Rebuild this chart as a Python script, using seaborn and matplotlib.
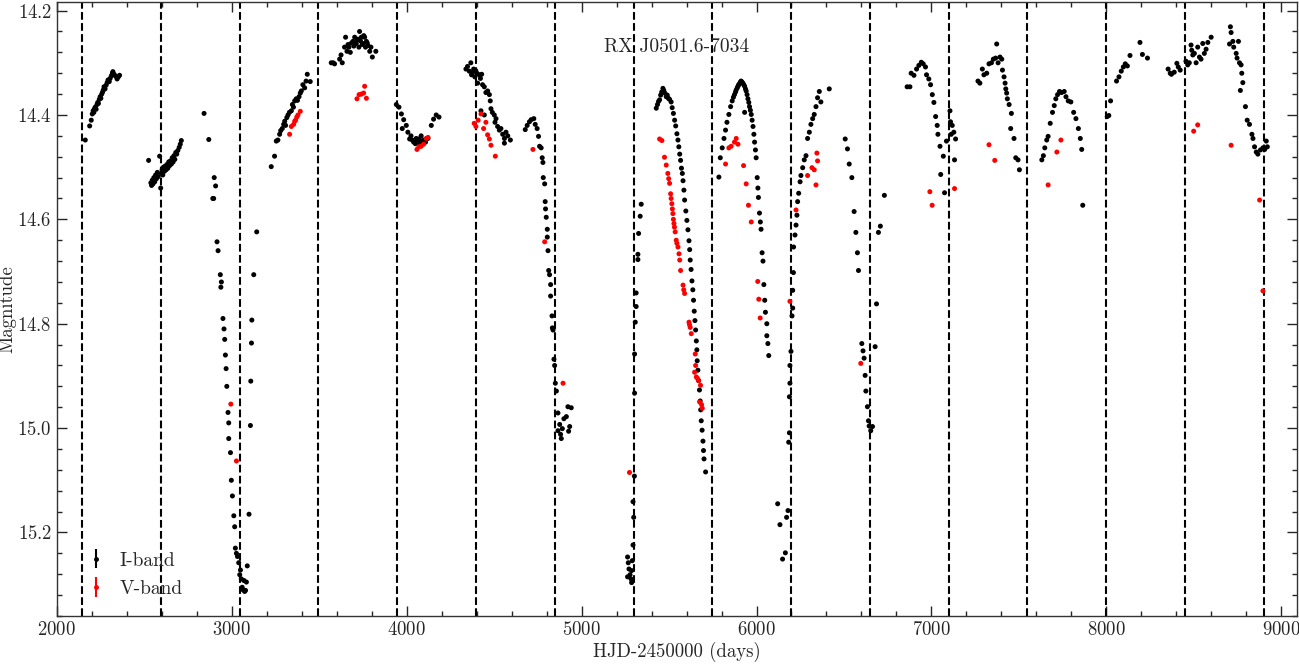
import numpy as np
import pandas as pd
import matplotlib
matplotlib.use("Agg")
import matplotlib.pyplot as plt
from matplotlib.ticker import MultipleLocator
import seaborn as sns

I_S01 = [(2163, 14.448), (2188, 14.421), (2197, 14.410), (2203, 14.398), (2208, 14.392), (2212, 14.395),
         (2216, 14.388), (2220, 14.385), (2225, 14.389), (2230, 14.380), (2234, 14.376), (2238, 14.378),
         (2243, 14.370), (2248, 14.365), (2252, 14.368), (2257, 14.360), (2262, 14.356), (2266, 14.352),
         (2270, 14.346), (2276, 14.350), (2282, 14.343), (2288, 14.338), (2293, 14.333), (2300, 14.336),
         (2305, 14.330), (2312, 14.325), (2318, 14.320), (2321, 14.317), (2328, 14.322), (2337, 14.326),
         (2345, 14.331), (2352, 14.327), (2359, 14.324)]
I_S02 = [(2525, 14.487), (2538, 14.530), (2542, 14.535), (2546, 14.525), (2550, 14.532), (2555, 14.520),
         (2560, 14.528), (2565, 14.515), (2570, 14.522), (2575, 14.510), (2580, 14.518), (2588, 14.479),
         (2594, 14.540), (2598, 14.512), (2602, 14.505), (2606, 14.515), (2610, 14.500), (2615, 14.508),
         (2620, 14.498), (2625, 14.505), (2630, 14.495), (2635, 14.502), (2640, 14.490), (2645, 14.497),
         (2650, 14.488), (2655, 14.494), (2660, 14.482), (2665, 14.490), (2670, 14.478), (2675, 14.485),
         (2680, 14.472), (2686, 14.475), (2692, 14.468), (2700, 14.462), (2706, 14.456), (2712, 14.449)]
I_S03 = [(2842, 14.397), (2869, 14.447), (2900, 14.520), (2908, 14.536), (2892, 14.560), (2897, 14.560),
         (2916, 14.643), (2922, 14.660), (2935, 14.706), (2941, 14.720), (2938, 14.730), (2950, 14.790),
         (2956, 14.810), (2960, 14.830), (2964, 14.860), (2968, 14.886), (2972, 14.920), (2979, 14.970),
         (2983, 14.990), (2983, 15.020), (2993, 15.047), (2998, 15.100), (3004, 15.130), (3012, 15.168),
         (3017, 15.189), (3021, 15.230), (3027, 15.240), (3033, 15.246), (3040, 15.258), (3046, 15.281),
         (3050, 15.272), (3055, 15.289), (3060, 15.305), (3065, 15.310), (3070, 15.292), (3074, 15.313),
         (3079, 15.311), (3084, 15.295), (3089, 15.264)]
I_S04 = [(3099, 15.165), (3107, 14.995), (3109, 14.910), (3113, 14.837), (3115, 14.793), (3126, 14.706),
         (3143, 14.624)]
I_S05 = [(3226, 14.499), (3245, 14.479), (3255, 14.450), (3264, 14.448), (3274, 14.437), (3280, 14.430),
         (3289, 14.426), (3297, 14.418), (3303, 14.412), (3308, 14.420), (3315, 14.405), (3322, 14.400),
         (3330, 14.395), (3341, 14.392), (3347, 14.380), (3353, 14.385), (3360, 14.373), (3369, 14.369),
         (3376, 14.372), (3385, 14.365), (3392, 14.358), (3398, 14.354), (3407, 14.342), (3417, 14.348),
         (3425, 14.335), (3432, 14.322), (3449, 14.336)]
I_S06 = [(3569, 14.300), (3580, 14.300), (3588, 14.302), (3617, 14.293), (3625, 14.285), (3632, 14.300),
         (3645, 14.270), (3651, 14.251), (3659, 14.278), (3665, 14.265), (3670, 14.270), (3678, 14.280),
         (3685, 14.262), (3693, 14.259), (3698, 14.268), (3703, 14.251), (3708, 14.262), (3712, 14.263),
         (3718, 14.255), (3722, 14.255), (3727, 14.270), (3731, 14.240), (3736, 14.258), (3741, 14.251),
         (3746, 14.265), (3750, 14.263), (3755, 14.248), (3760, 14.251), (3765, 14.270), (3770, 14.259),
         (3775, 14.262), (3779, 14.267), (3789, 14.278), (3796, 14.270), (3804, 14.289), (3824, 14.278)]
I_S07 = [(3941, 14.380), (3956, 14.385), (3970, 14.398), (3975, 14.426), (3983, 14.409), (3998, 14.420),
         (4007, 14.433), (4017, 14.446), (4025, 14.440), (4032, 14.448), (4040, 14.452), (4045, 14.450),
         (4050, 14.455), (4055, 14.445), (4062, 14.452), (4070, 14.446), (4076, 14.455), (4083, 14.440),
         (4090, 14.450), (4097, 14.448), (4108, 14.452), (4115, 14.445), (4122, 14.445), (4141, 14.420),
         (4154, 14.408), (4169, 14.400), (4185, 14.404)]
I_S08 = [(4339, 14.312), (4348, 14.307), (4358, 14.316), (4367, 14.300), (4371, 14.323), (4378, 14.318),
         (4383, 14.312), (4390, 14.327), (4395, 14.315), (4402, 14.320), (4406, 14.339), (4415, 14.323),
         (4422, 14.330), (4429, 14.322), (4434, 14.342), (4444, 14.346), (4453, 14.357), (4463, 14.354),
         (4473, 14.361), (4478, 14.373), (4425, 14.392), (4444, 14.400), (4482, 14.388), (4490, 14.395),
         (4501, 14.400), (4505, 14.414), (4511, 14.407), (4520, 14.422), (4530, 14.429), (4539, 14.426),
         (4549, 14.437), (4559, 14.445), (4559, 14.454), (4568, 14.433), (4578, 14.440), (4593, 14.448)]
I_S09 = [(4678, 14.428), (4689, 14.420), (4702, 14.413), (4712, 14.409), (4727, 14.407), (4735, 14.418),
         (4746, 14.426), (4754, 14.441), (4760, 14.460), (4769, 14.463), (4775, 14.482), (4779, 14.491),
         (4781, 14.520), (4789, 14.532), (4792, 14.566), (4794, 14.580), (4798, 14.596), (4804, 14.619),
         (4804, 14.634), (4808, 14.660), (4812, 14.698), (4817, 14.706), (4823, 14.725), (4823, 14.747),
         (4831, 14.785), (4833, 14.808), (4837, 14.812), (4842, 14.868), (4846, 14.880), (4850, 14.914),
         (4856, 14.929), (4865, 14.971), (4865, 15.005), (4875, 14.993), (4880, 15.012), (4884, 15.020),
         (4890, 15.001), (4899, 14.982), (4913, 14.978), (4922, 14.959), (4926, 15.006), (4932, 14.997),
         (4941, 14.961)]
I_S10 = [(5263, 15.247), (5263, 15.285), (5267, 15.258), (5271, 15.270), (5277, 15.281), (5283, 15.289),
         (5286, 15.296), (5286, 15.273), (5290, 15.254), (5294, 15.224), (5298, 15.171), (5294, 15.141),
         (5302, 15.092), (5303, 14.933), (5303, 14.858), (5307, 14.797), (5312, 14.767), (5312, 14.741),
         (5322, 14.677), (5322, 14.667), (5326, 14.627), (5335, 14.594), (5341, 14.571)]
I_S11 = [(5427, 14.387), (5434, 14.380), (5440, 14.374), (5446, 14.371), (5452, 14.362), (5458, 14.356),
         (5465, 14.349), (5470, 14.353), (5476, 14.358), (5484, 14.365), (5490, 14.362), (5496, 14.368),
         (5503, 14.370), (5512, 14.375), (5518, 14.386), (5525, 14.397), (5532, 14.410), (5538, 14.421),
         (5545, 14.436), (5551, 14.448), (5556, 14.461), (5561, 14.475), (5566, 14.487), (5571, 14.502),
         (5576, 14.512), (5580, 14.526), (5585, 14.544), (5589, 14.563), (5596, 14.584), (5602, 14.602),
         (5608, 14.620), (5614, 14.641), (5618, 14.658), (5621, 14.678), (5626, 14.696), (5631, 14.718),
         (5636, 14.735), (5640, 14.755), (5644, 14.776), (5648, 14.794), (5652, 14.812), (5656, 14.833),
         (5659, 14.850), (5661, 14.871), (5665, 14.889), (5669, 14.909), (5674, 14.927), (5678, 14.948),
         (5681, 14.965), (5684, 14.986), (5689, 15.004), (5694, 15.025), (5697, 15.043), (5700, 15.059),
         (5709, 15.084)]
I_S12 = [(5785, 14.519), (5793, 14.482), (5804, 14.463), (5814, 14.445), (5823, 14.429), (5831, 14.414),
         (5842, 14.399), (5852, 14.384), (5861, 14.373), (5868, 14.366), (5874, 14.361), (5880, 14.356),
         (5884, 14.352), (5890, 14.348), (5894, 14.345), (5898, 14.342), (5903, 14.340), (5908, 14.337),
         (5912, 14.335), (5917, 14.337), (5922, 14.339), (5927, 14.342), (5932, 14.345), (5937, 14.350),
         (5941, 14.354), (5946, 14.361), (5951, 14.369), (5956, 14.376), (5960, 14.384), (5965, 14.391),
         (5970, 14.399), (5975, 14.410), (5980, 14.422), (5985, 14.437), (5989, 14.452), (5994, 14.467),
         (5998, 14.482), (6004, 14.520), (6008, 14.540), (6011, 14.558), (6017, 14.588), (6022, 14.605),
         (6026, 14.619), (6032, 14.664), (6037, 14.680), (6042, 14.725), (6047, 14.755), (6051, 14.778),
         (6059, 14.800), (6059, 14.823), (6065, 14.838), (6070, 14.861), (5932, 14.395)]
I_S13 = [(6121, 15.145), (6134, 15.185), (6149, 15.251), (6165, 15.239), (6172, 15.171), (6180, 15.158),
         (6184, 15.027), (6188, 15.009), (6188, 14.940), (6191, 14.914), (6191, 14.880), (6197, 14.853),
         (6203, 14.785), (6207, 14.770), (6207, 14.736), (6211, 14.702), (6212, 14.653), (6220, 14.630),
         (6226, 14.611), (6231, 14.592), (6235, 14.566), (6241, 14.550), (6249, 14.528), (6254, 14.516),
         (6264, 14.501), (6273, 14.486), (6283, 14.478), (6292, 14.445), (6302, 14.433), (6311, 14.418),
         (6321, 14.407), (6330, 14.399), (6340, 14.384), (6349, 14.367), (6359, 14.355), (6368, 14.375),
         (6416, 14.350)]
I_S14 = [(6507, 14.446), (6520, 14.465), (6530, 14.494), (6545, 14.520), (6558, 14.585), (6568, 14.625),
         (6577, 14.664), (6583, 14.698), (6602, 14.838), (6609, 14.852), (6615, 14.866), (6621, 14.899),
         (6625, 14.929), (6634, 14.959), (6640, 14.986), (6644, 14.996), (6653, 15.005), (6663, 14.997),
         (6678, 14.844), (6686, 14.762), (6697, 14.625), (6708, 14.613), (6731, 14.554)]
I_S15 = [(6861, 14.346), (6877, 14.346), (6884, 14.320), (6900, 14.324), (6915, 14.312), (6928, 14.305),
         (6942, 14.299), (6953, 14.302), (6966, 14.308), (6972, 14.323), (6985, 14.331), (6995, 14.342),
         (7005, 14.361), (7014, 14.376), (7024, 14.403), (7033, 14.420), (7037, 14.437), (7049, 14.460),
         (7068, 14.479), (7053, 14.514), (7075, 14.549), (7086, 14.450), (7106, 14.392), (7109, 14.413),
         (7119, 14.420), (7128, 14.433), (7113, 14.437), (7138, 14.446), (7132, 14.486)]
I_S16 = [(7266, 14.335), (7277, 14.339), (7291, 14.312), (7300, 14.323), (7316, 14.320), (7329, 14.302),
         (7343, 14.300), (7354, 14.293), (7367, 14.291), (7373, 14.264), (7381, 14.300), (7392, 14.289),
         (7402, 14.293), (7406, 14.314), (7415, 14.327), (7421, 14.339), (7425, 14.350), (7430, 14.358),
         (7434, 14.369), (7444, 14.380), (7457, 14.397), (7453, 14.426), (7472, 14.445), (7482, 14.482),
         (7495, 14.486), (7503, 14.505)]
I_S17 = [(7631, 14.486), (7640, 14.478), (7648, 14.463), (7659, 14.448), (7667, 14.441), (7679, 14.416),
         (7692, 14.395), (7702, 14.382), (7711, 14.369), (7721, 14.361), (7732, 14.355), (7744, 14.357),
         (7759, 14.355), (7769, 14.365), (7782, 14.373), (7797, 14.375), (7813, 14.395), (7826, 14.407),
         (7840, 14.426), (7851, 14.445), (7859, 14.466), (7865, 14.573)]
I_S18 = [(8005, 14.403), (8014, 14.401), (8024, 14.373), (8058, 14.335), (8072, 14.327), (8085, 14.316),
         (8097, 14.308), (8108, 14.302), (8120, 14.306), (8135, 14.286), (8192, 14.261), (8206, 14.284),
         (8235, 14.291)]
I_S19 = [(8353, 14.312), (8365, 14.320), (8372, 14.322), (8388, 14.318), (8403, 14.301), (8411, 14.308),
         (8422, 14.314), (8455, 14.297), (8465, 14.304), (8474, 14.300), (8484, 14.266), (8488, 14.276),
         (8494, 14.285), (8503, 14.282), (8513, 14.300), (8522, 14.270), (8532, 14.289), (8541, 14.293),
         (8551, 14.263), (8560, 14.282), (8570, 14.274), (8580, 14.261), (8599, 14.251)]
I_S20 = [(8704, 14.264), (8709, 14.231), (8713, 14.242), (8723, 14.259), (8728, 14.270), (8742, 14.282),
         (8747, 14.291), (8755, 14.259), (8761, 14.300), (8766, 14.353), (8770, 14.304), (8774, 14.320),
         (8780, 14.338), (8795, 14.384), (8805, 14.410), (8818, 14.418), (8832, 14.437), (8838, 14.445),
         (8847, 14.461), (8857, 14.471), (8866, 14.475), (8881, 14.467), (8895, 14.463), (8905, 14.466),
         (8914, 14.450), (8920, 14.461)]

V_BAND = [(2995, 14.954), (3027, 15.063),
          (3331, 14.437), (3341, 14.422), (3354, 14.418), (3360, 14.412), (3365, 14.410), (3372, 14.404),
          (3379, 14.400), (3392, 14.393),
          (3716, 14.369), (3728, 14.361), (3741, 14.360), (3754, 14.358), (3760, 14.345), (3770, 14.368),
          (4059, 14.466), (4070, 14.461), (4083, 14.460), (4097, 14.456), (4112, 14.445), (4122, 14.443),
          (4386, 14.416), (4396, 14.422), (4409, 14.410), (4425, 14.398), (4440, 14.426), (4453, 14.414),
          (4463, 14.438), (4473, 14.446), (4482, 14.458), (4507, 14.479),
          (4722, 14.466), (4789, 14.643), (4894, 14.914),
          (5274, 15.085),
          (5446, 14.446), (5459, 14.449), (5474, 14.481), (5484, 14.496), (5493, 14.512), (5498, 14.522),
          (5503, 14.531), (5509, 14.551), (5512, 14.560), (5516, 14.570), (5519, 14.580), (5522, 14.589),
          (5525, 14.600), (5528, 14.608), (5531, 14.615), (5535, 14.624), (5541, 14.640), (5545, 14.646),
          (5551, 14.653), (5557, 14.666), (5561, 14.678), (5566, 14.698), (5580, 14.726), (5584, 14.735),
          (5589, 14.742), (5614, 14.797), (5617, 14.802), (5621, 14.807), (5627, 14.819), (5646, 14.893),
          (5650, 14.858), (5652, 14.880), (5656, 14.902), (5663, 14.905), (5669, 14.909), (5675, 14.950),
          (5680, 14.918), (5686, 14.955), (5690, 14.962),
          (5823, 14.494), (5842, 14.463), (5855, 14.460), (5874, 14.452), (5884, 14.445), (5894, 14.456),
          (5926, 14.497), (5941, 14.532), (5954, 14.573), (5970, 14.605), (6007, 14.719), (6013, 14.753),
          (6021, 14.789),
          (6191, 14.757), (6226, 14.582), (6292, 14.516), (6317, 14.501), (6330, 14.505), (6340, 14.534),
          (6345, 14.473), (6349, 14.488),
          (6596, 14.876),
          (6991, 14.547), (7004, 14.573), (7132, 14.541),
          (7329, 14.457), (7362, 14.487),
          (7667, 14.534), (7717, 14.471), (7740, 14.448),
          (8499, 14.431), (8522, 14.419), (8713, 14.458), (8876, 14.563), (8895, 14.737)]

# times of the vertical dashed markers
MARKER_DAYS = [2144, 2594, 3045, 3495, 3946, 4396, 4846, 5297,
               5747, 6198, 6648, 7098, 7549, 7999, 8450, 8900]

I_SEASONS = [I_S01, I_S02, I_S03, I_S04, I_S05, I_S06, I_S07, I_S08, I_S09, I_S10,
             I_S11, I_S12, I_S13, I_S14, I_S15, I_S16, I_S17, I_S18, I_S19, I_S20]


def main():
    rows = [(d, m, 'I-band') for season in I_SEASONS for d, m in season]
    rows += [(d, m, 'V-band') for d, m in V_BAND]
    df = pd.DataFrame(rows, columns=['day', 'mag', 'band'])

    sns.set_style("ticks")
    plt.rcParams['font.family'] = ['cmr10', 'DejaVu Serif']
    plt.rcParams['mathtext.fontset'] = 'cm'
    plt.rcParams['axes.formatter.use_mathtext'] = True
    plt.rcParams['font.size'] = 13.5

    fig = plt.figure(figsize=(12.99, 6.66), dpi=100)
    ax = fig.add_axes([0.0437, 0.0751, 0.9548, 0.9223])

    for d in MARKER_DAYS:
        ax.axvline(d, color='black', linestyle='--', linewidth=1.5, zorder=1)

    sns.scatterplot(data=df, x='day', y='mag', hue='band',
                    palette={'I-band': 'black', 'V-band': 'red'},
                    s=13, linewidth=0, legend=False, ax=ax, zorder=3)

    # legend handles drawn like the errorbar points of the original
    h_i = ax.errorbar([np.nan], [np.nan], yerr=[0.01], fmt='o', color='black',
                      ms=2.5, elinewidth=1.5, capsize=0)
    h_v = ax.errorbar([np.nan], [np.nan], yerr=[0.01], fmt='o', color='red',
                      ms=2.5, elinewidth=1.5, capsize=0)
    ax.legend([h_i, h_v], ['I-band', 'V-band'], loc='lower left', frameon=False,
              handlelength=1.0, handleheight=1.0, handletextpad=0.7,
              labelspacing=0.45, bbox_to_anchor=(0.01, 0.0), fontsize=14)

    ax.text(0.5, 0.926, 'RX J0501.6-7034', transform=ax.transAxes,
            ha='center', va='center', fontsize=14)

    ax.set_xlim(2000, 9090)
    ax.set_ylim(15.36, 14.183)
    ax.xaxis.set_major_locator(MultipleLocator(1000))
    ax.xaxis.set_minor_locator(MultipleLocator(200))
    ax.yaxis.set_major_locator(MultipleLocator(0.2))
    ax.yaxis.set_minor_locator(MultipleLocator(0.04))
    ax.tick_params(which='both', direction='in', top=True, right=True, labelsize=13.5)
    ax.tick_params(which='major', length=7, width=1)
    ax.tick_params(which='minor', length=3.5, width=1)
    ax.set_xlabel('HJD-2450000 (days)', fontsize=13.5, labelpad=2)
    ax.set_ylabel('Magnitude', fontsize=13.5)
    ax.yaxis.set_label_coords(-0.0325, 0.5)
    for sp in ax.spines.values():
        sp.set_color('#333333')
        sp.set_linewidth(1.0)

    fig.savefig('out.png', dpi=100)


if __name__ == '__main__':
    main()
